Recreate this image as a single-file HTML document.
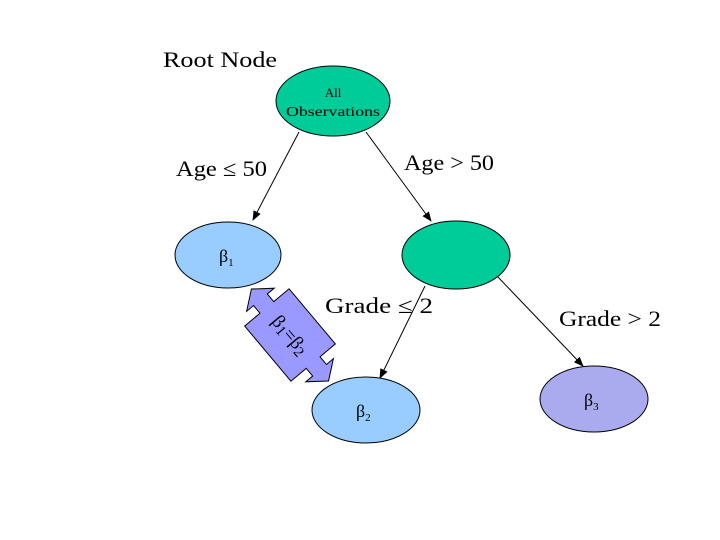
<html><body style="margin:0;background:#fff">
<svg width="720" height="540" xmlns="http://www.w3.org/2000/svg" font-family="Liberation Serif, serif">
<defs><marker id="a" markerWidth="10" markerHeight="8" refX="9" refY="4" orient="auto" markerUnits="userSpaceOnUse"><path d="M0,0 L10,4 L0,8 z" fill="#000"/></marker></defs>
<text x="163" y="67" font-size="22" textLength="114" lengthAdjust="spacingAndGlyphs">Root Node</text>
<ellipse cx="333" cy="101" rx="57" ry="35" fill="#00cc99" stroke="#000"/>
<text x="333" y="97" font-size="13" text-anchor="middle">All</text>
<text x="333" y="116" font-size="14" text-anchor="middle" textLength="94" lengthAdjust="spacingAndGlyphs">Observations</text>
<line x1="299" y1="132" x2="253" y2="220" stroke="#000" marker-end="url(#a)"/>
<line x1="366" y1="132" x2="431" y2="221" stroke="#000" marker-end="url(#a)"/>
<text x="176" y="176" font-size="22" textLength="91" lengthAdjust="spacingAndGlyphs">Age ≤ 50</text>
<text x="404" y="170" font-size="22" textLength="90" lengthAdjust="spacingAndGlyphs">Age &gt; 50</text>
<ellipse cx="228" cy="255" rx="53" ry="33" fill="#99ccff" stroke="#000"/>
<text x="219" y="262" font-size="18">β<tspan font-size="11" dy="4">1</tspan></text>
<ellipse cx="456" cy="255" rx="54" ry="34" fill="#00cc99" stroke="#000"/>
<line x1="425" y1="286" x2="380" y2="378" stroke="#000" marker-end="url(#a)"/>
<line x1="497" y1="276" x2="583" y2="366" stroke="#000" marker-end="url(#a)"/>
<text x="325" y="313" font-size="22" textLength="108" lengthAdjust="spacingAndGlyphs">Grade ≤  2</text>
<text x="559" y="326" font-size="22" textLength="102" lengthAdjust="spacingAndGlyphs">Grade &gt; 2</text>
<ellipse cx="366" cy="410" rx="54" ry="33" fill="#99ccff" stroke="#000"/>
<text x="356" y="417" font-size="18">β<tspan font-size="11" dy="4">2</tspan></text>
<ellipse cx="594" cy="399" rx="54" ry="33" fill="#aaaaee" stroke="#000"/>
<text x="584" y="406" font-size="18">β<tspan font-size="11" dy="4">3</tspan></text>
<g transform="translate(290,335) rotate(50)">
<polygon points="-60,0 -46,-18 -46,-9 -36,-9 -36,-29 36,-29 36,-9 46,-9 46,-18 60,0 46,18 46,9 36,9 36,29 -36,29 -36,9 -46,9 -46,18" fill="#9999ff" stroke="#000"/>
<text x="0" y="6" font-size="19" text-anchor="middle">β<tspan font-size="15" dy="3">1</tspan><tspan dy="-3">=β</tspan><tspan font-size="15" dy="3">2</tspan></text>
</g>
</svg>
</body></html>
